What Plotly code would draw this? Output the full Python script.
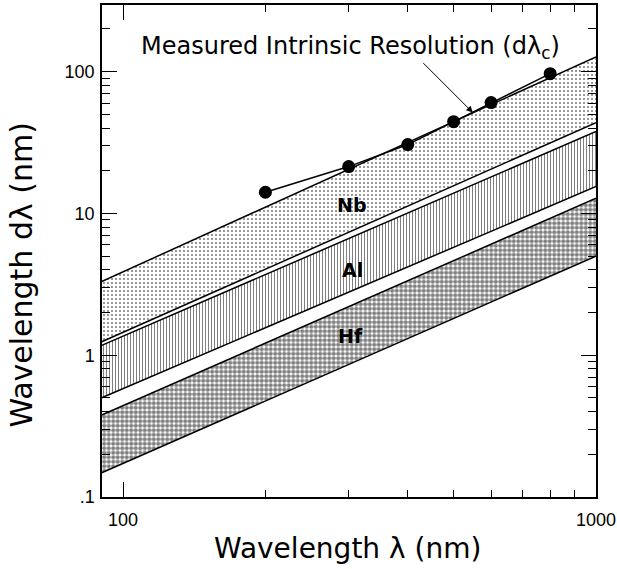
import math
import plotly.graph_objects as go

# Band edges (nm) read at the ends of the wavelength range
band_x = [90, 1000]
nb_upper = [3.3, 127]
nb_lower = [1.24, 43.7]
al_upper = [1.17, 37.8]
al_lower = [0.50, 15.5]
hf_upper = [0.378, 12.8]
hf_lower = [0.148, 5.0]

# Measured intrinsic resolution points
meas_x = [200, 300, 400, 500, 600, 800]
meas_y = [14.1, 21.4, 30.6, 44.4, 60.5, 96.8]

x_ticks = [100, 1000]
x_tick_text = ["100", "1000"]
y_ticks = [0.1, 1, 10, 100]
y_tick_text = [".1", "1", "10", "100"]

band_labels = ["Nb", "Al", "Hf"]
band_label_x = [305, 305, 302]
band_label_y = [11.4, 3.97, 1.36]

arrow_head = (549, 51.4)

fig = go.Figure()

line = dict(color="black", width=1.5)


def add_band(lower, upper, pattern):
    fig.add_trace(go.Scatter(x=band_x, y=lower, mode="lines", line=line,
                             showlegend=False, hoverinfo="skip"))
    fig.add_trace(go.Scatter(x=band_x, y=upper, mode="lines", line=line,
                             fill="tonexty", fillcolor="white",
                             fillpattern=pattern,
                             showlegend=False, hoverinfo="skip"))


add_band(nb_lower, nb_upper,
         dict(shape=".", size=4, solidity=0.22, fgcolor="black", bgcolor="white"))
add_band(al_lower, al_upper,
         dict(shape="|", size=3, solidity=0.35, fgcolor="black", bgcolor="white"))
add_band(hf_lower, hf_upper,
         dict(shape=".", size=4.5, solidity=0.65, fgcolor="black", bgcolor="white"))

fig.add_trace(go.Scatter(x=meas_x, y=meas_y, mode="lines+markers",
                         line=dict(color="black", width=1.5),
                         marker=dict(color="black", size=13),
                         showlegend=False))

for t, lx, ly in zip(band_labels, band_label_x, band_label_y):
    fig.add_annotation(x=math.log10(lx), y=math.log10(ly), xref="x", yref="y",
                       text="<b>%s</b>" % t, showarrow=False,
                       font=dict(family="DejaVu Sans", size=19, color="black"))

fig.add_annotation(xref="paper", yref="paper", x=0.504, y=0.95,
                   text="Measured Intrinsic Resolution (dλ<sub>c</sub>)",
                   showarrow=False,
                   font=dict(family="DejaVu Sans", size=24, color="black"))

fig.add_annotation(x=math.log10(arrow_head[0]), y=math.log10(arrow_head[1]),
                   xref="x", yref="y", text="",
                   showarrow=True, ax=-51, ay=-51,
                   arrowhead=2, arrowsize=1.3, arrowwidth=1, arrowcolor="black")

# axis titles
fig.add_annotation(xref="paper", yref="paper", x=0.496, y=0, yanchor="middle",
                   yshift=-51, text="Wavelength λ (nm)", showarrow=False,
                   font=dict(family="DejaVu Sans", size=28, color="black"))
fig.add_annotation(xref="paper", yref="paper", x=0, y=0.45, xanchor="center",
                   xshift=-80, textangle=-90, text="Wavelength dλ (nm)",
                   showarrow=False,
                   font=dict(family="DejaVu Sans", size=30, color="black"))

axis_common = dict(type="log", showgrid=False, zeroline=False, automargin=False,
                   showline=True, linecolor="black", linewidth=1.5,
                   mirror="ticks", ticks="inside", tickcolor="black",
                   tickwidth=1.2, ticklen=15,
                   tickfont=dict(family="Liberation Sans", size=18, color="black"))

fig.update_xaxes(**axis_common, range=[1.9556, 3.0],
                 tickvals=x_ticks, ticktext=x_tick_text,
                 minor=dict(tickvals=[200, 300, 400, 500, 600, 700, 800, 900],
                            ticks="inside", ticklen=7, tickcolor="black", tickwidth=1.2),
                 ticklabelstandoff=6)

y_minor = [m * d for d in (0.1, 1, 10, 100) for m in range(2, 10)]
fig.update_yaxes(**axis_common, range=[-1.0, 2.47],
                 tickvals=y_ticks, ticktext=y_tick_text,
                 minor=dict(tickvals=y_minor, ticks="inside", ticklen=8,
                            tickcolor="black", tickwidth=1.2),
                 ticklabelstandoff=2)

fig.update_layout(width=617, height=569,
                  margin=dict(l=102, r=21, t=5, b=72),
                  plot_bgcolor="white", paper_bgcolor="white")

fig.write_html("out.html", config={"displayModeBar": False},
               post_script="document.body.style.margin='0';document.body.style.overflow='hidden';")
